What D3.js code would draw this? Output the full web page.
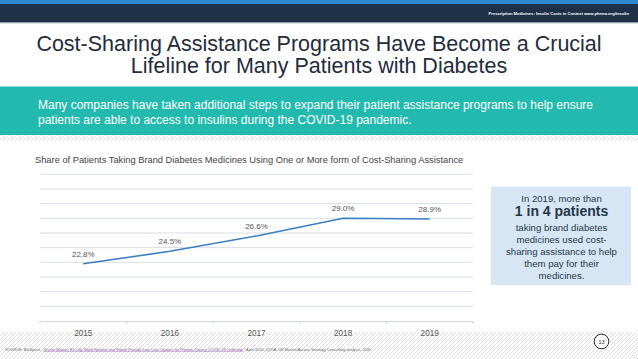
<!DOCTYPE html>
<html><head><meta charset="utf-8">
<script src="https://cdn.jsdelivr.net/npm/d3@7"></script>
<style>
html,body{margin:0;padding:0;background:#fff;}
svg{display:block;font-family:"Liberation Sans",Arial,sans-serif;}
</style></head>
<body>
<svg id="c" width="638" height="359"></svg>
<script>
const years = ["2015","2016","2017","2018","2019"];
const shares = [22.8, 24.5, 26.6, 29.0, 28.9];
const shareLabels = ["22.8%","24.5%","26.6%","29.0%","28.9%"];
const gridTicks = [15,17,19,21,23,25,27,29,31,33,35];
const titleLines = ["Cost-Sharing Assistance Programs Have Become a Crucial","Lifeline for Many Patients with Diabetes"];
const bandLines = ["Many companies have taken additional steps to expand their patient assistance programs to help ensure","patients are able to access to insulins during the COVID-19 pandemic."];
const chartTitle = "Share of Patients Taking Brand Diabetes Medicines Using One or More form of Cost-Sharing Assistance";
const calloutLines = ["In 2019, more than","1 in 4 patients","taking brand diabetes","medicines used cost-","sharing assistance to help","them pay for their","medicines."];

const svg = d3.select("#c");
const defs = svg.append("defs");
const pat = defs.append("pattern").attr("id","hatch").attr("width",4).attr("height",4)
  .attr("patternUnits","userSpaceOnUse");
pat.append("rect").attr("width",4).attr("height",4).attr("fill","#fff");
pat.append("path").attr("d","M-1,1 l2,-2 M0,4 l4,-4 M3,5 l2,-2").attr("stroke","#d6d6d6").attr("stroke-width",0.8);

// background
svg.append("rect").attr("x",0).attr("y",0).attr("width",638).attr("height",359).attr("fill","#fff");
svg.append("rect").attr("x",0).attr("y",135).attr("width",638).attr("height",224).attr("fill","url(#hatch)");
svg.append("rect").attr("x",0).attr("y",141).attr("width",638).attr("height",191).attr("fill","#fff");

// header
svg.append("rect").attr("x",0).attr("y",0).attr("width",638).attr("height",4).attr("fill","#2f88d0");
svg.append("rect").attr("x",0).attr("y",4).attr("width",638).attr("height",18.5).attr("fill","#1f3049");
svg.append("rect").attr("x",0).attr("y",22.5).attr("width",638).attr("height",0.8).attr("fill","#9aa3ad");
svg.append("text").attr("x",629).attr("y",15).attr("text-anchor","end").attr("fill","#fff")
  .attr("font-size",4.1).attr("font-weight","bold")
  .text("Prescription Medicines: Insulin Costs in Context   www.phrma.org/insulin");

// title
svg.selectAll(".title").data(titleLines).join("text").attr("class","title")
  .attr("x",319).attr("y",(d,i)=>51+i*21.7).attr("text-anchor","middle")
  .attr("font-size",21.5).attr("fill","#1f2c3c").text(d=>d);

// teal band
svg.append("rect").attr("x",0).attr("y",86.5).attr("width",638).attr("height",48.5).attr("fill","#22b9ae");
svg.selectAll(".band").data(bandLines).join("text").attr("class","band")
  .attr("x",38).attr("y",(d,i)=>108.5+i*15.5).attr("font-size",12).attr("fill","#fff").text(d=>d);

// chart title
svg.append("text").attr("x",35).attr("y",162.5).attr("font-size",9.3).attr("fill","#444")
  .text(chartTitle);

// scales
const x = d3.scaleBand().domain(years).range([40,473]);
const y = d3.scaleLinear().domain([15,35]).range([321,174.3]);

// gridlines
svg.append("g").selectAll("line").data(gridTicks.slice(1)).join("line")
  .attr("x1",40).attr("x2",473).attr("y1",d=>y(d)).attr("y2",d=>y(d))
  .attr("stroke","#d8dee5").attr("stroke-width",1);

// x axis
const xAxis = svg.append("g").attr("transform","translate(0,"+y(15)+")")
  .call(d3.axisBottom(x).tickSize(0).tickPadding(9));
xAxis.select(".domain").attr("stroke","#d0d5da");
xAxis.selectAll("text").attr("font-size",8.2).attr("fill","#555")
  .attr("font-family","Liberation Sans, Arial, sans-serif");
const bounds = years.map(d=>x(d)).concat([x.range()[1]]);
xAxis.selectAll(".bt").data(bounds).join("line").attr("class","bt")
  .attr("x1",d=>d).attr("x2",d=>d).attr("y1",0).attr("y2",3).attr("stroke","#d0d5da");

// line
const pts = years.map((d,i)=>({year:d, v:shares[i], label:shareLabels[i]}));
const line = d3.line().x(d=>x(d.year)+x.bandwidth()/2).y(d=>y(d.v));
svg.append("path").datum(pts).attr("d",line).attr("fill","none")
  .attr("stroke","#3b7dbf").attr("stroke-width",1.6);

svg.selectAll(".lbl").data(pts).join("text").attr("class","lbl")
  .attr("x",d=>x(d.year)+x.bandwidth()/2).attr("y",d=>y(d.v)-7)
  .attr("text-anchor","middle").attr("font-size",8).attr("fill","#555").text(d=>d.label);

// callout box
svg.append("rect").attr("x",491).attr("y",186.5).attr("width",140).attr("height",98.5).attr("fill","#d7e6f4");
const cy = [198.5, 211, 227.5, 239.5, 251.5, 263.5, 275.5];
svg.selectAll(".co").data(calloutLines).join("text").attr("class","co")
  .attr("x",561.5).attr("y",(d,i)=>cy[i]+(i===1?5:3.5)).attr("text-anchor","middle")
  .attr("font-size",(d,i)=>i===1?14:9.6).attr("font-weight",(d,i)=>i===1?"bold":"normal")
  .attr("fill","#26364a").text(d=>d);

// footer
const src = svg.append("text").attr("x",5).attr("y",350.5).attr("font-size",3.9).attr("fill","#666");
src.append("tspan").text("SOURCE: BioSpace, ");
src.append("tspan").attr("fill","#8a5aa8").attr("text-decoration","underline")
  .text("\u201CInsulin Makers Eli Lilly, Novo Nordisk and Sanofi Provide Low-Cost Options for Patients During COVID-19 Outbreak");
src.append("tspan").text(",\u201D April 2020; IQVIA, US Market Access Strategy Consulting analysis, 2020.");

svg.append("circle").attr("cx",601.5).attr("cy",341.5).attr("r",7.3).attr("fill","#fff")
  .attr("stroke","#222").attr("stroke-width",1);
svg.append("text").attr("x",601.5).attr("y",343.5).attr("text-anchor","middle").attr("font-size",5.5)
  .attr("fill","#333").text("13");
</script>
</body></html>
